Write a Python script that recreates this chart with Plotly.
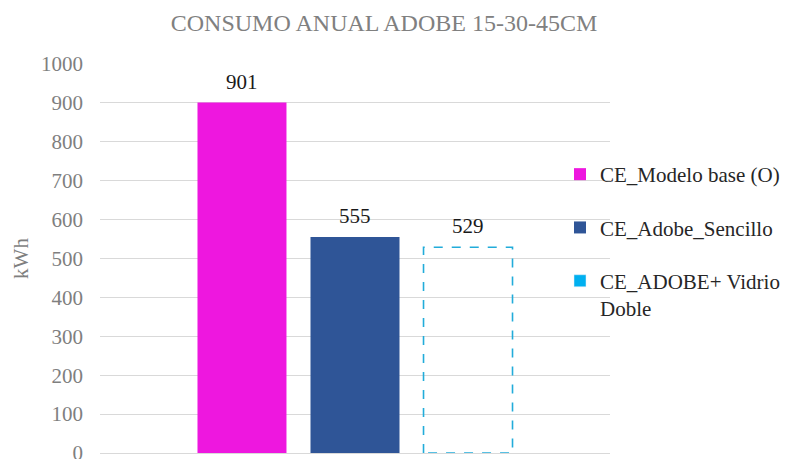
import plotly.graph_objects as go

# Annual consumption per scenario (kWh)
series_names = ["CE_Modelo base (O)", "CE_Adobe_Sencillo", "CE_ADOBE+ Vidrio<br>Doble"]
series_values = [901, 555, 529]
series_colors = ["#EE17DF", "#2F5597", "#00B0F0"]
dashed_outline = [False, False, True]
y_ticks = [0, 100, 200, 300, 400, 500, 600, 700, 800, 900, 1000]

FONT = "Liberation Serif"

# Layout of the single category: slot per series and bar width (in x units)
slot = 0.2216
bar_width = 0.1745
n = len(series_values)
centers = [(i - (n - 1) / 2) * slot for i in range(n)]

fig = go.Figure()

for i, (name, val, col, dashed) in enumerate(zip(series_names, series_values, series_colors, dashed_outline)):
    c = centers[i]
    left, right = c - bar_width / 2, c + bar_width / 2
    if not dashed:
        fig.add_trace(go.Bar(
            x=[c], y=[val], width=[bar_width], name=name,
            marker=dict(color=col, line=dict(width=0)),
            legendgroup=f"g{i}", hoverinfo="skip",
        ))
    else:
        # Outline-only bar drawn as a dashed rectangle
        fig.add_trace(go.Scatter(
            x=[left, left, right, right, left], y=[0, val, val, 0, 0],
            mode="lines", line=dict(color="#22ACDA", width=1.6, dash="dash"),
            showlegend=False, hoverinfo="skip",
        ))
        # Legend entry with a solid swatch
        fig.add_trace(go.Bar(
            x=[None], y=[None], name=name, marker=dict(color=col),
            legendgroup=f"g{i}",
        ))
    fig.add_annotation(
        x=c, y=val, text=str(val), showarrow=False, yshift=21,
        font=dict(family=FONT, size=21, color="#1a1a1a"),
    )

fig.update_layout(
    width=801, height=459,
    margin=dict(l=100, r=191, t=64, b=6, autoexpand=False),
    paper_bgcolor="white", plot_bgcolor="white",
    barmode="overlay",
    title=dict(
        text="CONSUMO ANUAL ADOBE 15-30-45CM",
        x=384 / 801, xref="container", xanchor="center",
        y=1 - 23 / 459, yref="container", yanchor="middle",
        font=dict(family=FONT, size=24, color="#808080"),
    ),
    xaxis=dict(
        range=[-0.5, 0.5], showticklabels=False, showgrid=False, zeroline=False,
        showline=True, linecolor="#D9D9D9", linewidth=1, fixedrange=True,
    ),
    yaxis=dict(
        range=[0, 1000], tickvals=y_ticks, ticktext=[str(t) for t in y_ticks],
        showgrid=True, gridcolor="#D9D9D9", gridwidth=1, zeroline=False,
        showline=False, ticks="", ticklabelstandoff=16, ticklabeloverflow="allow",
        tickfont=dict(family=FONT, size=21, color="#7F7F7F"),
        title=dict(text="kWh", standoff=6, font=dict(family=FONT, size=21, color="#7F7F7F")),
    ),
    legend=dict(
        x=560 / 801, xref="container", xanchor="left",
        y=1 - 154 / 459, yref="container", yanchor="top",
        font=dict(family=FONT, size=21, color="#262626"),
        tracegroupgap=23, itemwidth=30, valign="top",
        bgcolor="rgba(0,0,0,0)",
    ),
    showlegend=True,
)

fig.write_html("out.html")
